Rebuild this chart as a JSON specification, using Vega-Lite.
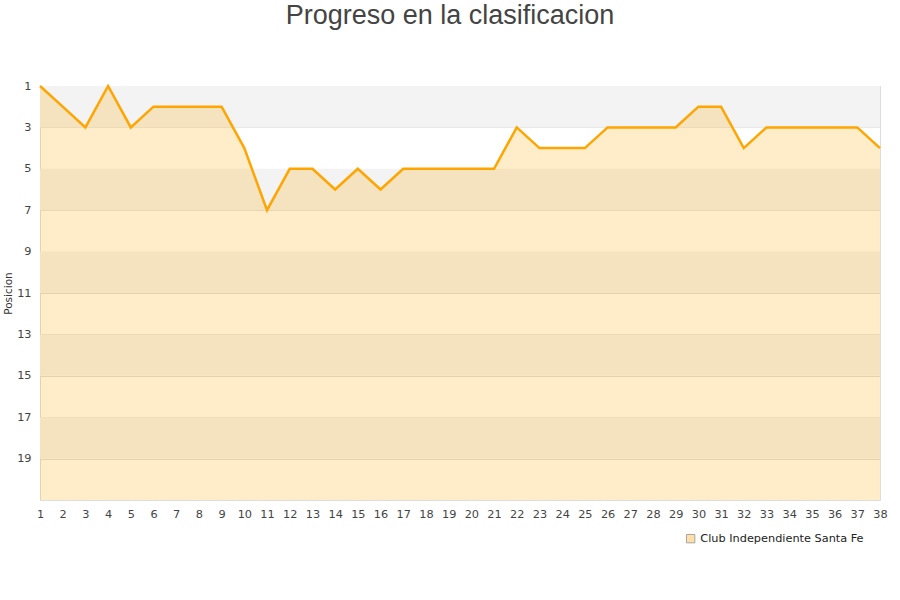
{
  "$schema": "https://vega.github.io/schema/vega-lite/v6.json",
  "width": 840,
  "height": 414,
  "autosize": {"type": "none"},
  "padding": {"left": 40, "top": 86, "right": 20, "bottom": 100},
  "background": "white",
  "title": {
    "text": "Progreso en la clasificacion",
    "font": "Liberation Sans",
    "fontSize": 27,
    "fontWeight": "normal",
    "color": "#444444",
    "anchor": "middle",
    "frame": "group",
    "dx": -10,
    "offset": 50
  },
  "datasets": {
    "bands": [
      {"lo": 1, "hi": 3},
      {"lo": 5, "hi": 7},
      {"lo": 9, "hi": 11},
      {"lo": 13, "hi": 15},
      {"lo": 17, "hi": 19}
    ],
    "posiciones": [
      {"jornada": 1, "pos": 1, "equipo": "Club Independiente Santa Fe"},
      {"jornada": 2, "pos": 2, "equipo": "Club Independiente Santa Fe"},
      {"jornada": 3, "pos": 3, "equipo": "Club Independiente Santa Fe"},
      {"jornada": 4, "pos": 1, "equipo": "Club Independiente Santa Fe"},
      {"jornada": 5, "pos": 3, "equipo": "Club Independiente Santa Fe"},
      {"jornada": 6, "pos": 2, "equipo": "Club Independiente Santa Fe"},
      {"jornada": 7, "pos": 2, "equipo": "Club Independiente Santa Fe"},
      {"jornada": 8, "pos": 2, "equipo": "Club Independiente Santa Fe"},
      {"jornada": 9, "pos": 2, "equipo": "Club Independiente Santa Fe"},
      {"jornada": 10, "pos": 4, "equipo": "Club Independiente Santa Fe"},
      {"jornada": 11, "pos": 7, "equipo": "Club Independiente Santa Fe"},
      {"jornada": 12, "pos": 5, "equipo": "Club Independiente Santa Fe"},
      {"jornada": 13, "pos": 5, "equipo": "Club Independiente Santa Fe"},
      {"jornada": 14, "pos": 6, "equipo": "Club Independiente Santa Fe"},
      {"jornada": 15, "pos": 5, "equipo": "Club Independiente Santa Fe"},
      {"jornada": 16, "pos": 6, "equipo": "Club Independiente Santa Fe"},
      {"jornada": 17, "pos": 5, "equipo": "Club Independiente Santa Fe"},
      {"jornada": 18, "pos": 5, "equipo": "Club Independiente Santa Fe"},
      {"jornada": 19, "pos": 5, "equipo": "Club Independiente Santa Fe"},
      {"jornada": 20, "pos": 5, "equipo": "Club Independiente Santa Fe"},
      {"jornada": 21, "pos": 5, "equipo": "Club Independiente Santa Fe"},
      {"jornada": 22, "pos": 3, "equipo": "Club Independiente Santa Fe"},
      {"jornada": 23, "pos": 4, "equipo": "Club Independiente Santa Fe"},
      {"jornada": 24, "pos": 4, "equipo": "Club Independiente Santa Fe"},
      {"jornada": 25, "pos": 4, "equipo": "Club Independiente Santa Fe"},
      {"jornada": 26, "pos": 3, "equipo": "Club Independiente Santa Fe"},
      {"jornada": 27, "pos": 3, "equipo": "Club Independiente Santa Fe"},
      {"jornada": 28, "pos": 3, "equipo": "Club Independiente Santa Fe"},
      {"jornada": 29, "pos": 3, "equipo": "Club Independiente Santa Fe"},
      {"jornada": 30, "pos": 2, "equipo": "Club Independiente Santa Fe"},
      {"jornada": 31, "pos": 2, "equipo": "Club Independiente Santa Fe"},
      {"jornada": 32, "pos": 4, "equipo": "Club Independiente Santa Fe"},
      {"jornada": 33, "pos": 3, "equipo": "Club Independiente Santa Fe"},
      {"jornada": 34, "pos": 3, "equipo": "Club Independiente Santa Fe"},
      {"jornada": 35, "pos": 3, "equipo": "Club Independiente Santa Fe"},
      {"jornada": 36, "pos": 3, "equipo": "Club Independiente Santa Fe"},
      {"jornada": 37, "pos": 3, "equipo": "Club Independiente Santa Fe"},
      {"jornada": 38, "pos": 4, "equipo": "Club Independiente Santa Fe"}
    ]
  },
  "layer": [
    {
      "data": {"name": "bands"},
      "mark": {"type": "rect", "fill": "#f3f3f3"},
      "encoding": {
        "y": {
          "field": "lo",
          "type": "quantitative",
          "scale": {"domain": [1, 21], "reverse": true, "nice": false, "zero": false},
          "axis": {
            "title": "Posicion",
            "values": [1, 3, 5, 7, 9, 11, 13, 15, 17, 19],
            "format": "d",
            "labelOverlap": false
          }
        },
        "y2": {"field": "hi"}
      }
    },
    {
      "data": {"name": "posiciones"},
      "mark": {"type": "area", "opacity": 0.21},
      "encoding": {
        "x": {
          "field": "jornada",
          "type": "ordinal",
          "sort": null,
          "scale": {"type": "point", "padding": 0},
          "axis": {"title": null, "labelAngle": 0, "labelOverlap": false}
        },
        "y": {"field": "pos", "type": "quantitative"},
        "y2": {"datum": 21},
        "fill": {
          "field": "equipo",
          "type": "nominal",
          "scale": {"range": ["#ffa500"]},
          "legend": {
            "orient": "none",
            "legendX": 645,
            "legendY": 447,
            "title": null,
            "symbolType": "square",
            "symbolSize": 70,
            "symbolOpacity": 0.35,
            "symbolStrokeColor": "#000000",
            "symbolStrokeWidth": 1,
            "labelFont": "DejaVu Sans",
            "labelFontSize": 11.3,
            "labelLimit": 400,
            "labelColor": "#222222"
          }
        }
      }
    },
    {
      "data": {"name": "posiciones"},
      "mark": {"type": "line", "color": "#ffa500", "strokeWidth": 2.5},
      "encoding": {
        "x": {"field": "jornada", "type": "ordinal", "sort": null},
        "y": {"field": "pos", "type": "quantitative"}
      }
    }
  ],
  "config": {
    "view": {"stroke": "#dddddd", "strokeWidth": 1},
    "axisX": {
      "grid": false,
      "ticks": false,
      "domain": false,
      "labelFont": "DejaVu Sans",
      "labelFontSize": 11.3,
      "labelColor": "#444444",
      "labelPadding": 8
    },
    "axisY": {
      "titleFont": "DejaVu Sans",
      "titleFontSize": 10.5,
      "titleFontWeight": "normal",
      "titleColor": "#333333",
      "titlePadding": 3,
      "grid": true,
      "gridColor": "#dddddd",
      "ticks": false,
      "domain": false,
      "labelFont": "DejaVu Sans",
      "labelFontSize": 11.3,
      "labelColor": "#444444",
      "labelPadding": 9,
      "labelFlush": false
    }
  }
}
